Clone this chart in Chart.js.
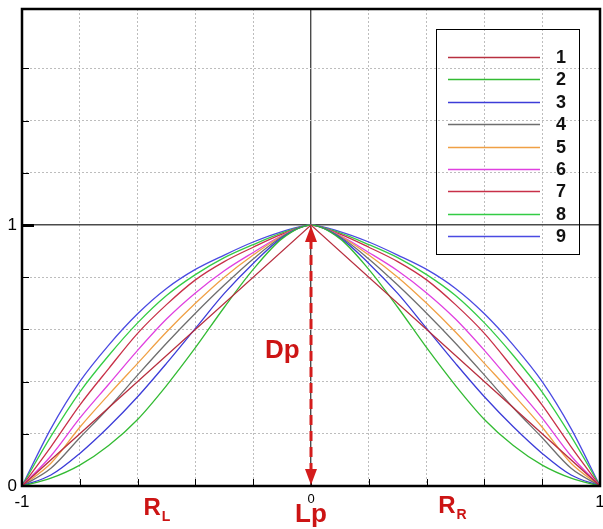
<!DOCTYPE html>
<html><head><meta charset="utf-8">
<script src="https://cdn.jsdelivr.net/npm/chart.js@4.4.1/dist/chart.umd.min.js"></script>
<style>html,body{margin:0;padding:0;background:#fff;overflow:hidden}</style>
</head><body>
<canvas id="c" width="603" height="529" style="width:603px;height:529px;display:block"></canvas>
<script>
const FONT = "'Liberation Sans', Arial, sans-serif";

// x positions of the sampled curve points
const xValues = [-1,-0.9,-0.8,-0.7,-0.6,-0.5,-0.4,-0.3,-0.2,-0.1,0,0.1,0.2,0.3,0.4,0.5,0.6,0.7,0.8,0.9,1];

// series 1: straight (triangular) profile
const s1x = [-1, 0, 1];
const s1y = [0, 1, 0];

const s2 = [0,0.03,0.08,0.155,0.255,0.385,0.53,0.685,0.83,0.948,1,0.948,0.83,0.685,0.53,0.385,0.255,0.155,0.08,0.03,0];
const s3 = [0,0.042,0.125,0.227,0.342,0.47,0.604,0.738,0.853,0.952,1,0.952,0.853,0.738,0.604,0.47,0.342,0.227,0.125,0.042,0];
const s4 = [0,0.068,0.185,0.30,0.425,0.547,0.662,0.77,0.87,0.955,1,0.955,0.87,0.77,0.662,0.547,0.425,0.30,0.185,0.068,0];
const s5 = [0,0.087,0.225,0.35,0.47,0.59,0.70,0.80,0.885,0.958,1,0.958,0.885,0.80,0.70,0.59,0.47,0.35,0.225,0.087,0];
const s6 = [0,0.115,0.26,0.39,0.52,0.64,0.74,0.825,0.895,0.96,1,0.96,0.895,0.825,0.74,0.64,0.52,0.39,0.26,0.115,0];
const s7 = [0,0.15,0.31,0.45,0.585,0.695,0.79,0.86,0.915,0.965,1,0.965,0.915,0.86,0.79,0.695,0.585,0.45,0.31,0.15,0];
const s8 = [0,0.19,0.36,0.50,0.625,0.73,0.81,0.875,0.925,0.97,1,0.97,0.925,0.875,0.81,0.73,0.625,0.50,0.36,0.19,0];
const s9 = [0,0.22,0.40,0.54,0.66,0.757,0.83,0.885,0.935,0.975,1,0.975,0.935,0.885,0.83,0.757,0.66,0.54,0.40,0.22,0];

const seriesLabels = ['1','2','3','4','5','6','7','8','9'];
const seriesColors = ['#b83040','#33bb33','#3c3cd8','#6e6e6e','#f0a044','#e040e0','#c83048','#33cc44','#4a4ae2'];

const xTickLabels = {'-1':'-1','0':'0','1':'1'};
const yTickLabels = {'0':'0','1':'1'};

const toPts = (xs, ys) => xs.map((x, i) => ({x, y: ys[i]}));
const curveData = [toPts(s1x, s1y), toPts(xValues, s2), toPts(xValues, s3), toPts(xValues, s4),
  toPts(xValues, s5), toPts(xValues, s6), toPts(xValues, s7), toPts(xValues, s8), toPts(xValues, s9)];

const datasets = curveData.map((d, i) => ({
  label: seriesLabels[i],
  data: d,
  borderColor: seriesColors[i],
  borderWidth: 1.3,
  pointRadius: 0,
  fill: false,
  tension: 0,
  cubicInterpolationMode: i === 0 ? 'default' : 'monotone'
}));

const near = (a, b) => Math.abs(a - b) < 1e-6;
const keyOf = (v) => (near(v, 0) ? '0' : near(v, 1) ? '1' : near(v, -1) ? '-1' : null);

const overlay = {
  id: 'overlay',
  afterDatasetsDraw(chart) {
    const {ctx, chartArea: a, scales: {x, y}} = chart;
    ctx.save();
    // inward tick marks
    ctx.strokeStyle = '#000';
    y.ticks.forEach(t => {
      const py = Math.round(y.getPixelForValue(t.value)) + 0.5;
      const big = near(t.value, 1);
      ctx.lineWidth = big ? 3 : 1;
      ctx.beginPath(); ctx.moveTo(a.left, py); ctx.lineTo(a.left + (big ? 12 : 7), py); ctx.stroke();
    });
    ctx.lineWidth = 1;
    x.ticks.forEach(t => {
      const px = Math.round(x.getPixelForValue(t.value)) + 0.5;
      ctx.beginPath(); ctx.moveTo(px, a.bottom); ctx.lineTo(px, a.bottom - 7); ctx.stroke();
    });
    // frame
    ctx.lineWidth = 2.5;
    ctx.strokeRect(a.left, a.top, a.right - a.left, a.bottom - a.top);

    // dashed double arrow at x = 0 from y = 0 to y = 1
    const red = '#d41c1c';
    const ax = x.getPixelForValue(0);
    const yTop = y.getPixelForValue(1), yBot = y.getPixelForValue(0);
    ctx.strokeStyle = red; ctx.fillStyle = red;
    ctx.lineWidth = 3;
    ctx.setLineDash([10, 6]);
    ctx.beginPath(); ctx.moveTo(ax, yTop + 14); ctx.lineTo(ax, yBot - 14); ctx.stroke();
    ctx.setLineDash([]);
    ctx.beginPath(); ctx.moveTo(ax, yTop + 1); ctx.lineTo(ax - 6, yTop + 17); ctx.lineTo(ax + 6, yTop + 17); ctx.closePath(); ctx.fill();
    ctx.beginPath(); ctx.moveTo(ax, yBot - 1); ctx.lineTo(ax - 6, yBot - 17); ctx.lineTo(ax + 6, yBot - 17); ctx.closePath(); ctx.fill();

    // red annotation texts
    ctx.fillStyle = '#cc1414';
    ctx.textBaseline = 'alphabetic';
    ctx.textAlign = 'left';
    ctx.font = `bold 26px ${FONT}`;
    ctx.fillText('Dp', 265, 358);
    // R_L
    ctx.font = `bold 24px ${FONT}`;
    const rL = x.getPixelForValue(-0.58);
    ctx.fillText('R', rL, 515);
    let w = ctx.measureText('R').width;
    ctx.font = `bold 14px ${FONT}`;
    ctx.fillText('L', rL + w + 1, 521);
    // R_R
    ctx.font = `bold 24px ${FONT}`;
    const rR = x.getPixelForValue(0.44);
    ctx.fillText('R', rR, 513);
    w = ctx.measureText('R').width;
    ctx.font = `bold 14px ${FONT}`;
    ctx.fillText('R', rR + w + 1, 519);
    // Lp
    ctx.font = `bold 26px ${FONT}`;
    ctx.textAlign = 'center';
    ctx.fillText('Lp', ax, 522);

    // legend box
    ctx.textAlign = 'left';
    ctx.strokeStyle = '#000';
    ctx.lineWidth = 1;
    ctx.strokeRect(436.5, 29.5, 143, 225);
    chart.data.datasets.forEach((ds, i) => {
      const ly = Math.round(57 + i * 22.4) + 0.5;
      ctx.strokeStyle = ds.borderColor;
      ctx.lineWidth = 1.6;
      ctx.beginPath(); ctx.moveTo(448, ly); ctx.lineTo(540, ly); ctx.stroke();
      ctx.fillStyle = '#111';
      ctx.font = `bold 18px ${FONT}`;
      ctx.textBaseline = 'middle';
      ctx.fillText(ds.label, 556, ly + 1);
    });
    ctx.restore();
  }
};

new Chart(document.getElementById('c'), {
  type: 'line',
  data: {datasets},
  options: {
    responsive: false,
    animation: false,
    devicePixelRatio: 1,
    layout: {padding: {top: 9, right: 3, left: 0, bottom: 0}},
    plugins: {legend: {display: false}, tooltip: {enabled: false}},
    scales: {
      x: {
        type: 'linear', min: -1, max: 1,
        afterFit: (s) => { s.height = 43; s.paddingLeft = 0; s.paddingRight = 0; },
        ticks: {
          stepSize: 0.2, autoSkip: false, maxRotation: 0, padding: 6, color: '#000',
          font: (c) => ({family: FONT, size: (c.tick && near(c.tick.value, 0)) ? 13 : 17}),
          callback: (v) => { const k = keyOf(v); return k && xTickLabels[k] ? xTickLabels[k] : ''; }
        },
        grid: {
          drawTicks: false,
          color: (c) => (c.tick && near(c.tick.value, 0)) ? '#4a4a4a' : '#bdbdbd',
          lineWidth: (c) => (c.tick && near(c.tick.value, 0)) ? 1.4 : 1
        },
        border: {display: false, dash: (c) => (c.tick && near(c.tick.value, 0)) ? [] : [2, 2]}
      },
      y: {
        type: 'linear', min: 0, max: 1.828,
        afterFit: (s) => { s.width = 22; s.paddingTop = 0; s.paddingBottom = 0; },
        ticks: {
          stepSize: 0.2, autoSkip: false, padding: 5, color: '#000',
          font: {family: FONT, size: 17},
          callback: (v) => { const k = keyOf(v); return k && yTickLabels[k] ? yTickLabels[k] : ''; }
        },
        grid: {
          drawTicks: false,
          color: (c) => (c.tick && near(c.tick.value, 1)) ? '#4a4a4a' : '#bdbdbd',
          lineWidth: (c) => (c.tick && near(c.tick.value, 1)) ? 1.4 : 1
        },
        border: {display: false, dash: (c) => (c.tick && near(c.tick.value, 1)) ? [] : [2, 2]}
      }
    }
  },
  plugins: [overlay]
});
</script>
</body></html>
